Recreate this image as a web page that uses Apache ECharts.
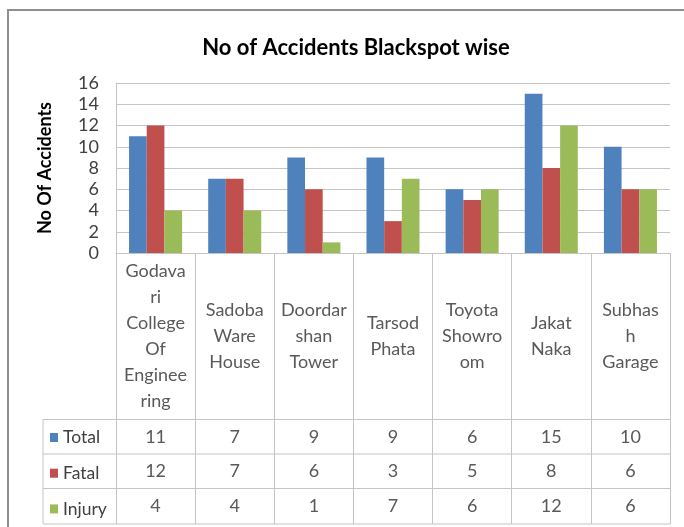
<!DOCTYPE html>
<html><head><meta charset="utf-8">
<script src="https://cdn.jsdelivr.net/npm/echarts@6/dist/echarts.min.js"></script>
<style>html,body{margin:0;padding:0;background:#fff}#c{width:684px;height:527px}</style>
</head><body><div id="c"></div>
<script>
const categories = ['Godavari College Of Engineering','Sadoba Ware House','Doordarshan Tower','Tarsod Phata','Toyota Showroom','Jakat Naka','Subhash Garage'];
const tickLabels = ['Godava\nri\nCollege\nOf\nEnginee\nring','Sadoba\nWare\nHouse','Doordar\nshan\nTower','Tarsod\nPhata','Toyota\nShowro\nom','Jakat\nNaka','Subhas\nh\nGarage'];
const seriesNames = ['Total','Fatal','Injury'];
const total = [11,7,9,9,6,15,10];
const fatal = [12,7,6,3,5,8,6];
const injury = [4,4,1,7,6,12,6];
const yMin = 0, yMax = 16, yStep = 2;

const FONT = 'Lato';
const colors = ['#4F81BD','#C0504D','#9BBB59'];
const lineCol = '#c4c4c4';
const rows = [total, fatal, injury];
const rowOffsets = [184, 218, 253];

const chart = echarts.init(document.getElementById('c'));
const xAxes = [{
  type:'category', data:categories, gridIndex:0, position:'bottom',
  axisLine:{show:true, lineStyle:{color:lineCol, width:1}},
  axisTick:{show:true, interval:0, length:271, lineStyle:{color:lineCol}},
  axisLabel:{interval:0, margin:83, verticalAlign:'middle', lineHeight:26, fontFamily:FONT, fontSize:18, color:'#595959',
    formatter:(v,i)=>tickLabels[i]},
  splitLine:{show:false}
}];
rows.forEach((arr,k)=>{
  xAxes.push({
    type:'category', data:categories, gridIndex:0, position:'bottom', offset:rowOffsets[k],
    axisLine:{show:false}, axisTick:{show:false}, splitLine:{show:false},
    axisLabel:{interval:0, margin:0, verticalAlign:'middle', fontFamily:FONT, fontSize:18, color:'#595959',
      formatter:(v,i)=>String(arr[i])}
  });
});

const tableLines = [];
[419.5, 454, 488.5, 524].forEach(y=>{
  tableLines.push({type:'line', shape:{x1:43,y1:y,x2:670,y2:y}, style:{stroke:lineCol, lineWidth:1}, silent:true});
});
tableLines.push({type:'line', shape:{x1:43,y1:419.5,x2:43,y2:524}, style:{stroke:lineCol, lineWidth:1}, silent:true});
tableLines.push({type:'polyline', shape:{points:[[8,527],[8,10],[684,10]]}, style:{stroke:'#8f8f8f', lineWidth:2, fill:null}, silent:true});

chart.setOption({
  animation:false,
  backgroundColor:'#fff',
  color: colors,
  title:{text:'No of Accidents Blackspot wise', left:351, top:32, textAlign:'center',
    textStyle:{fontFamily:FONT, fontSize:22, fontWeight:'bold', color:'#000'}},
  legend:{orient:'vertical', left:50, top:428.5, padding:0, itemWidth:8, itemHeight:9, itemGap:17.7, icon:'rect',
    textStyle:{fontFamily:FONT, fontSize:17.5, lineHeight:17, color:'#404040'}, data:seriesNames},
  grid:{left:116, right:14, top:83, bottom:274, containLabel:false},
  xAxis: xAxes,
  yAxis:{type:'value', min:yMin, max:yMax, interval:yStep,
    name:'No Of Accidents', nameLocation:'middle', nameGap:62,
    nameTextStyle:{fontFamily:FONT, fontSize:18, fontWeight:'bold', color:'#000'},
    axisLine:{show:true, lineStyle:{color:lineCol}},
    axisTick:{show:false},
    axisLabel:{fontFamily:FONT, fontSize:18, color:'#404040', margin:17},
    splitLine:{show:true, lineStyle:{color:lineCol, width:1}}},
  series:[
    {name:seriesNames[0], type:'bar', data:total, barGap:'0%', barCategoryGap:'33%'},
    {name:seriesNames[1], type:'bar', data:fatal, barGap:'0%', barCategoryGap:'33%'},
    {name:seriesNames[2], type:'bar', data:injury, barGap:'0%', barCategoryGap:'33%'}
  ],
  graphic: tableLines
});
</script></body></html>
